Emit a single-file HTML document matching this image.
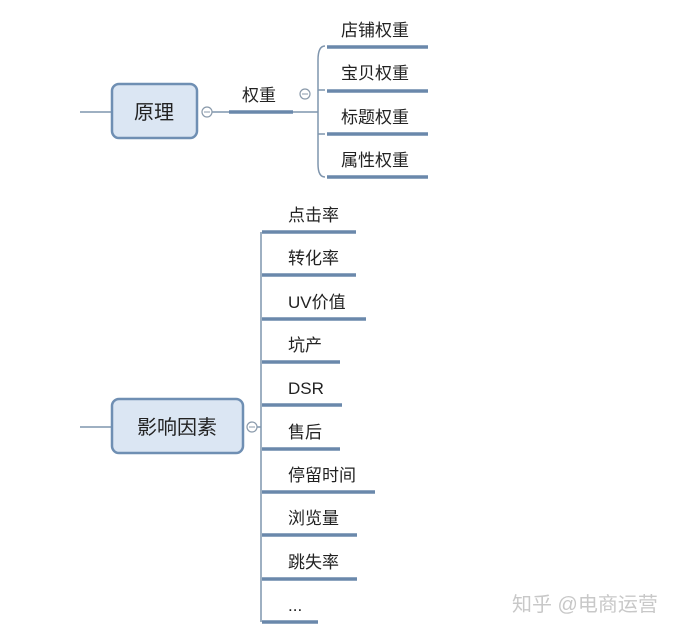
<!DOCTYPE html>
<html><head><meta charset="utf-8"><style>
body{margin:0;background:#fff;width:675px;height:631px;overflow:hidden}
svg text{font-family:"Liberation Sans","Noto Sans CJK SC",sans-serif;fill:#222}
</style></head><body>
<svg width="675" height="631" xmlns="http://www.w3.org/2000/svg">
<g fill="none" stroke="#7f95ad" stroke-width="1.5">
<line x1="80" y1="112" x2="112" y2="112"/>
<line x1="212" y1="112" x2="230" y2="112"/>
<path d="M293 112 H318 M325 46 Q318 46 318 60 V164 Q318 177 325 177 M318 90 Q318 90 325 90 M318 134 H325"/>
<line x1="80" y1="427" x2="112" y2="427"/>
<line x1="257" y1="427" x2="261" y2="427"/>
<line x1="261" y1="232" x2="261" y2="622"/>
</g>
<rect x="112" y="84" width="85" height="54" rx="7" fill="#dbe6f3" stroke="#6f8fb3" stroke-width="2.5"/>
<text x="154" y="119" font-size="20" text-anchor="middle">原理</text>
<rect x="112" y="399" width="131" height="54" rx="7" fill="#dbe6f3" stroke="#6f8fb3" stroke-width="2.5"/>
<text x="177" y="434" font-size="20" text-anchor="middle">影响因素</text>
<g fill="#fff" stroke="#8a9aab" stroke-width="1.2">
<circle cx="207" cy="112" r="5"/><circle cx="305" cy="94" r="5"/><circle cx="252" cy="427" r="5"/>
</g>
<g stroke="#8a9aab" stroke-width="1"><line x1="204" y1="112" x2="210" y2="112"/><line x1="302" y1="94" x2="308" y2="94"/><line x1="249" y1="427" x2="255" y2="427"/></g>
<g stroke="#6a88ab" stroke-width="3.5">
<line x1="229" y1="112" x2="293" y2="112"/>
<line x1="327" y1="47" x2="428" y2="47"/>
<line x1="327" y1="91" x2="428" y2="91"/>
<line x1="327" y1="134" x2="428" y2="134"/>
<line x1="327" y1="177" x2="428" y2="177"/>
<line x1="262" y1="232" x2="356" y2="232"/>
<line x1="262" y1="275" x2="356" y2="275"/>
<line x1="262" y1="319" x2="366" y2="319"/>
<line x1="262" y1="362" x2="340" y2="362"/>
<line x1="262" y1="405" x2="342" y2="405"/>
<line x1="262" y1="449" x2="340" y2="449"/>
<line x1="262" y1="492" x2="375" y2="492"/>
<line x1="262" y1="535" x2="357" y2="535"/>
<line x1="262" y1="579" x2="357" y2="579"/>
<line x1="262" y1="622" x2="318" y2="622"/>
</g>
<g font-size="17">
<text x="242" y="101">权重</text>
<text x="341" y="36">店铺权重</text>
<text x="341" y="79">宝贝权重</text>
<text x="341" y="123">标题权重</text>
<text x="341" y="166">属性权重</text>
<text x="288" y="221">点击率</text>
<text x="288" y="264">转化率</text>
<text x="288" y="308">UV价值</text>
<text x="288" y="351">坑产</text>
<text x="288" y="394">DSR</text>
<text x="288" y="438">售后</text>
<text x="288" y="481">停留时间</text>
<text x="288" y="524">浏览量</text>
<text x="288" y="568">跳失率</text>
<text x="288" y="611">...</text>
</g>
<text x="512" y="611" font-size="20" style="fill:#c8c8c8">知乎 @电商运营</text>
</svg>
</body></html>
